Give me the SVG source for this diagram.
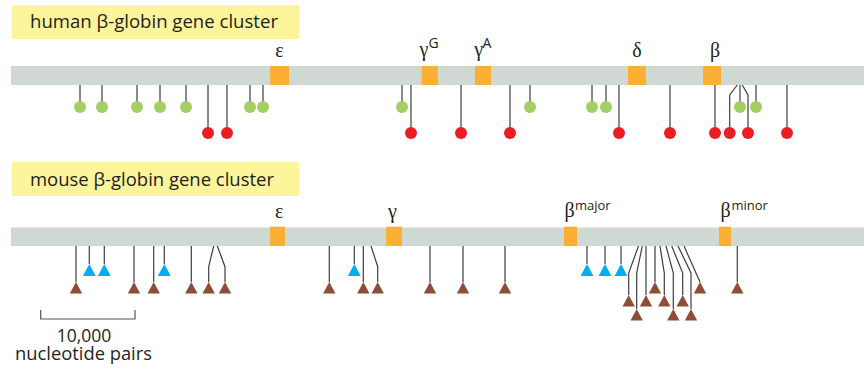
<svg xmlns="http://www.w3.org/2000/svg" xmlns:xlink="http://www.w3.org/1999/xlink" width="868" height="371" viewBox="0 0 868 371">
<style>
  text { font-family: "Open Sans", "Noto Sans", "DejaVu Sans", sans-serif; fill: #231f20; }
  .title { font-size: 18px; }
  .gl { font-family: "Liberation Serif", "DejaVu Serif", serif; font-size: 20px; }
  .sup { font-size: 14px; }
  .sup2 { font-size: 13px; }
  .bar { fill: #cfd8d3; }
  .gene { fill: #fbb034; }
  .label { fill: #fdf49c; }
  .st { fill: none; stroke: #3d3d3d; stroke-width: 1.2; }
  .g { fill: #a4cf63; }
  .r { fill: #ec1c24; }
  .scale { fill: none; stroke: #555; stroke-width: 1.2; }
</style>
<defs>
  <path id="tb" d="M0,0 L6.2,11.5 L-6.2,11.5 Z" fill="#8e4d36"/>
  <path id="tc" d="M0,0 L6.4,12 L-6.4,12 Z" fill="#00adee"/>
</defs>

<!-- titles -->
<g id="human-title">
  <rect class="label" x="12" y="5" width="287" height="34"/>
  <text class="title" x="30" y="28" textLength="248" lengthAdjust="spacingAndGlyphs">human β-globin gene cluster</text>
</g>
<g id="mouse-title">
  <rect class="label" x="12" y="162" width="287" height="34"/>
  <text class="title" x="30" y="185.5" textLength="244" lengthAdjust="spacingAndGlyphs">mouse β-globin gene cluster</text>
</g>

<!-- chromosome bars -->
<g id="human-bar"><rect class="bar" x="11" y="66" width="853" height="19"/></g>
<g id="mouse-bar"><rect class="bar" x="11" y="227.5" width="853" height="18.5"/></g>

<!-- connectors (stalks) -->
<g id="connectors">
  <!-- human green -->
  <path class="st" d="M80,85V107M102,85V107M137,85V107M160,85V107M186,85V107M250,85V107M263,85V107M402,85V107M530,85V107M592,85V107M606,85V107M740,85V107M756,85V107"/>
  <!-- human red -->
  <path class="st" d="M208,85V133M227,85V133M411,85V133M461,85V133M510,85V133M619,85V133M670,85V133M715,85V133M787,85V133"/>
  <polyline class="st" points="737.3,85 729.7,95 729.7,133"/>
  <polyline class="st" points="742.3,85 748,95 748,133"/>
  <!-- mouse blue -->
  <path class="st" d="M89.3,246V264M104.3,246V264M164.3,246V264M354.3,246V264M587,246V264M605,246V264M621,246V264"/>
  <!-- mouse brown row1 -->
  <path class="st" d="M76,246V282M134,246V282M153.7,246V282M191.3,246V282M329.3,246V282M363.3,246V282M430,246V282M463,246V282M505,246V282M655,246V282M737.3,246V282"/>
  <polyline class="st" points="213.7,246 208.7,266.7 208.7,282"/>
  <polyline class="st" points="217.3,246 225,266.7 225,282"/>
  <polyline class="st" points="371,246 377.7,266.7 377.7,282"/>
  <polyline class="st" points="684,246 700,282"/>
  <!-- mouse brown row2 -->
  <polyline class="st" points="638.5,246 628.7,273 628.7,295"/>
  <path class="st" d="M646,246V295"/>
  <polyline class="st" points="660,246 664.3,273 664.3,295"/>
  <polyline class="st" points="671.7,246 682.7,273 682.7,295"/>
  <!-- mouse brown row3 -->
  <polyline class="st" points="642.3,246 636.7,273 636.7,309"/>
  <polyline class="st" points="666,246 673.3,273 673.3,309"/>
  <polyline class="st" points="678,246 691,273 691,309"/>
</g>

<!-- human genes -->
<g id="human-epsilon"><rect class="gene" x="270" y="66" width="19" height="19"/><text class="gl" x="279.5" y="57" text-anchor="middle">ε</text></g>
<g id="human-gammaG"><rect class="gene" x="421.7" y="66" width="16.3" height="19"/><text class="gl" x="419.5" y="56">γ</text><text class="sup" x="428.5" y="47.5">G</text></g>
<g id="human-gammaA"><rect class="gene" x="475" y="66" width="16" height="19"/><text class="gl" x="474.3" y="56">γ</text><text class="sup" x="482.5" y="47.5">A</text></g>
<g id="human-delta"><rect class="gene" x="628" y="66" width="18" height="19"/><text class="gl" x="637" y="56.5" text-anchor="middle">δ</text></g>
<g id="human-beta"><rect class="gene" x="703" y="66" width="18" height="19"/><text class="gl" x="715" y="56.5" text-anchor="middle">β</text></g>

<!-- mouse genes -->
<g id="mouse-epsilon"><rect class="gene" x="270" y="226.7" width="15" height="19.3"/><text class="gl" x="279.3" y="217.5" text-anchor="middle">ε</text></g>
<g id="mouse-gamma"><rect class="gene" x="386" y="226.7" width="16" height="19.3"/><text class="gl" x="392.3" y="217.5" text-anchor="middle">γ</text></g>
<g id="mouse-beta-major"><rect class="gene" x="564" y="226.7" width="13" height="19.3"/><text class="gl" x="564.5" y="216.5">β</text><text class="sup2" x="575" y="209.5">major</text></g>
<g id="mouse-beta-minor"><rect class="gene" x="719" y="226.7" width="12" height="19.3"/><text class="gl" x="720.5" y="216.5">β</text><text class="sup2" x="731.5" y="209.5">minor</text></g>

<!-- human markers -->
<g id="human-green-markers">
  <circle class="g" cx="80" cy="107" r="6"/><circle class="g" cx="102" cy="107" r="6"/>
  <circle class="g" cx="137" cy="107" r="6"/><circle class="g" cx="160" cy="107" r="6"/>
  <circle class="g" cx="186" cy="107" r="6"/><circle class="g" cx="250" cy="107" r="6"/>
  <circle class="g" cx="263" cy="107" r="6"/><circle class="g" cx="402" cy="107" r="6"/>
  <circle class="g" cx="530" cy="107" r="6"/><circle class="g" cx="592" cy="107" r="6"/>
  <circle class="g" cx="606" cy="107" r="6"/><circle class="g" cx="740" cy="107" r="6"/>
  <circle class="g" cx="756" cy="107" r="6"/>
</g>
<g id="human-red-markers">
  <circle class="r" cx="208" cy="133" r="6"/><circle class="r" cx="227" cy="133" r="6"/>
  <circle class="r" cx="411" cy="133" r="6"/><circle class="r" cx="461" cy="133" r="6"/>
  <circle class="r" cx="510" cy="133" r="6"/><circle class="r" cx="619" cy="133" r="6"/>
  <circle class="r" cx="670" cy="133" r="6"/><circle class="r" cx="715" cy="133" r="6"/>
  <circle class="r" cx="729.7" cy="133" r="6"/><circle class="r" cx="748" cy="133" r="6"/>
  <circle class="r" cx="787" cy="133" r="6"/>
</g>

<!-- mouse markers -->
<g id="mouse-blue-markers">
  <use xlink:href="#tc" x="89.3" y="264"/><use xlink:href="#tc" x="104.3" y="264"/>
  <use xlink:href="#tc" x="164.3" y="264"/><use xlink:href="#tc" x="354.3" y="264"/>
  <use xlink:href="#tc" x="587" y="264"/><use xlink:href="#tc" x="605" y="264"/>
  <use xlink:href="#tc" x="621" y="264"/>
</g>
<g id="mouse-brown-markers">
  <use xlink:href="#tb" x="76" y="282"/><use xlink:href="#tb" x="134" y="282"/>
  <use xlink:href="#tb" x="153.7" y="282"/><use xlink:href="#tb" x="191.3" y="282"/>
  <use xlink:href="#tb" x="208.7" y="282"/><use xlink:href="#tb" x="225" y="282"/>
  <use xlink:href="#tb" x="329.3" y="282"/><use xlink:href="#tb" x="363.3" y="282"/>
  <use xlink:href="#tb" x="377.7" y="282"/><use xlink:href="#tb" x="430" y="282"/>
  <use xlink:href="#tb" x="463" y="282"/><use xlink:href="#tb" x="505" y="282"/>
  <use xlink:href="#tb" x="655" y="282"/><use xlink:href="#tb" x="700" y="282"/>
  <use xlink:href="#tb" x="737.3" y="282"/>
  <use xlink:href="#tb" x="628.7" y="295"/><use xlink:href="#tb" x="646" y="295"/>
  <use xlink:href="#tb" x="664.3" y="295"/><use xlink:href="#tb" x="682.7" y="295"/>
  <use xlink:href="#tb" x="636.7" y="309"/><use xlink:href="#tb" x="673.3" y="309"/>
  <use xlink:href="#tb" x="691" y="309"/>
</g>

<!-- scale bar -->
<g id="scale-bar">
  <polyline class="scale" points="40.7,310 40.7,319 135,319 135,310"/>
  <text class="title" x="84" y="341.5" text-anchor="middle" style="font-size:17.5px">10,000</text>
  <text class="title" x="83.5" y="360" text-anchor="middle" style="font-size:17.5px" textLength="137" lengthAdjust="spacingAndGlyphs">nucleotide pairs</text>
</g>
</svg>
